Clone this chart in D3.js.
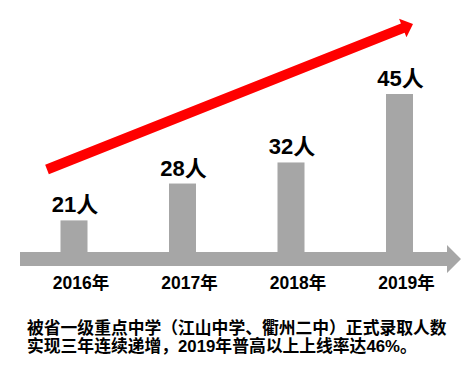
<!DOCTYPE html>
<html>
<head>
<meta charset="utf-8">
<script src="https://cdn.jsdelivr.net/npm/d3@7"></script>
<style>
  body { margin: 0; background: #fff; }
  svg { display: block; }
</style>
</head>
<body>
<div id="chart"></div>
<script>
var years = ["2016", "2017", "2018", "2019"];
var counts = [21, 28, 32, 45];
var yearLabels = ["2016年", "2017年", "2018年", "2019年"];
var caption = ["被省一级重点中学（江山中学、衢州二中）正式录取人数",
               "实现三年连续递增，2019年普高以上上线率达46%。"];

var width = 476, height = 372;
var baseY = 252;

var svg = d3.select("#chart").append("svg")
    .attr("width", width)
    .attr("height", height);

var data = years.map(function(y, i){
    return {year: y, count: counts[i], label: yearLabels[i]};
});

var xScale = d3.scalePoint()
    .domain(years)
    .range([74, 399.5]);

var yScale = d3.scaleLinear()
    .domain([15, 45])
    .range([baseY, 94]);

var barW = 27;

// red trend arrow
function arrowPath(sx, sy, tx, ty, shaft, head, headLen){
    var dx = tx - sx, dy = ty - sy;
    var len = Math.sqrt(dx*dx + dy*dy);
    var ux = dx/len, uy = dy/len;
    var nx = -uy, ny = ux;
    var bx = tx - headLen*ux, by = ty - headLen*uy;
    var pts = [
        [sx + shaft*nx, sy + shaft*ny],
        [bx + shaft*nx, by + shaft*ny],
        [bx + head*nx, by + head*ny],
        [tx, ty],
        [bx - head*nx, by - head*ny],
        [bx - shaft*nx, by - shaft*ny],
        [sx - shaft*nx, sy - shaft*ny]
    ];
    return "M" + pts.map(function(p){ return p[0] + "," + p[1]; }).join("L") + "Z";
}

svg.append("path")
    .attr("d", arrowPath(47, 169.5, 413, 24, 5, 10, 11))
    .attr("fill", "#ff0000");

// bars
svg.selectAll("rect.bar")
    .data(data)
    .enter()
    .append("rect")
    .attr("class", "bar")
    .attr("x", function(d){ return xScale(d.year) - barW/2; })
    .attr("y", function(d){ return yScale(d.count); })
    .attr("width", barW)
    .attr("height", function(d){ return baseY - yScale(d.count); })
    .attr("fill", "#a6a6a6");

// gray axis arrow
svg.append("path")
    .attr("d", "M20," + baseY + "L447," + baseY + "L447,245L461,259L447,273L447,266L20,266Z")
    .attr("fill", "#a6a6a6");

// value labels
svg.selectAll("text.val")
    .data(data)
    .enter()
    .append("text")
    .attr("class", "val")
    .attr("x", function(d){ return xScale(d.year) + 1; })
    .attr("y", function(d){ return yScale(d.count) - 8; })
    .attr("text-anchor", "middle")
    .style("font-family", "'Liberation Sans', 'Noto Sans CJK SC', sans-serif")
    .style("font-weight", "bold")
    .style("font-size", "22px")
    .style("fill", "#000")
    .text(function(d){ return d.count + "人"; });

// year labels
svg.selectAll("text.year")
    .data(data)
    .enter()
    .append("text")
    .attr("class", "year")
    .attr("x", function(d){ return xScale(d.year) + 7; })
    .attr("y", 289)
    .attr("text-anchor", "middle")
    .style("font-family", "'Liberation Sans', 'Noto Sans CJK SC', sans-serif")
    .style("font-weight", "bold")
    .style("font-size", "17.5px")
    .style("fill", "#000")
    .text(function(d){ return d.label; });

// caption
svg.selectAll("text.cap")
    .data(caption)
    .enter()
    .append("text")
    .attr("class", "cap")
    .attr("x", 27)
    .attr("y", function(d, i){ return 334 + i*18; })
    .style("font-family", "'Liberation Sans', 'Noto Sans CJK SC', sans-serif")
    .style("font-weight", "bold")
    .style("font-size", "16.8px")
    .style("fill", "#000")
    .text(function(d){ return d; });
</script>
</body>
</html>
